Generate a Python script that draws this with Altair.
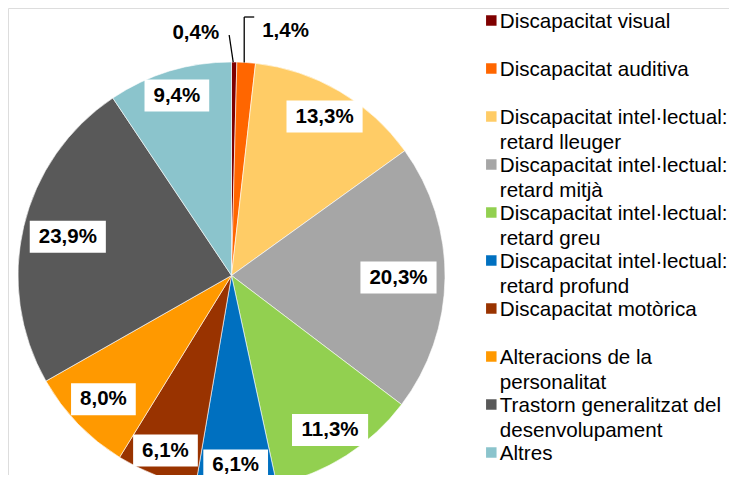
import altair as alt
import pandas as pd

cats = [
    "Discapacitat visual",
    "Discapacitat auditiva",
    "Discapacitat intel·lectual: retard lleuger",
    "Discapacitat intel·lectual: retard mitjà",
    "Discapacitat intel·lectual: retard greu",
    "Discapacitat intel·lectual: retard profund",
    "Discapacitat motòrica",
    "Alteracions de la personalitat",
    "Trastorn generalitzat del desenvolupament",
    "Altres",
]
legend_text = [
    "Discapacitat visual",
    "Discapacitat auditiva",
    "Discapacitat intel·lectual:\nretard lleuger",
    "Discapacitat intel·lectual:\nretard mitjà",
    "Discapacitat intel·lectual:\nretard greu",
    "Discapacitat intel·lectual:\nretard profund",
    "Discapacitat motòrica",
    "Alteracions de la\npersonalitat",
    "Trastorn generalitzat del\ndesenvolupament",
    "Altres",
]
values = [0.4, 1.4, 13.3, 20.3, 11.3, 6.1, 6.1, 8.0, 23.9, 9.4]
labels = ["0,4%", "1,4%", "13,3%", "20,3%", "11,3%", "6,1%", "6,1%", "8,0%", "23,9%", "9,4%"]
colors = ["#7F0000", "#FF6600", "#FFCC66", "#A6A6A6", "#92D050",
          "#0070C0", "#993300", "#FF9900", "#595959", "#8BC4CC"]

df = pd.DataFrame({"cat": cats, "v": values, "lab": labels, "i": list(range(len(cats)))})
leg = pd.DataFrame({"cat": cats, "txt": legend_text, "i": list(range(len(cats)))})

W, H = 721, 467
CX, CY, R = 223.5, 267.5, 213.5
FONT = "Liberation Sans"
LFS = 20.5

color = alt.Color("cat:N", scale=alt.Scale(domain=cats, range=colors), legend=None)

base = alt.Chart(df)

pie = base.mark_arc(outerRadius=R, stroke="white", strokeWidth=0.6).encode(
    theta=alt.Theta("v:Q", stack=True),
    order=alt.Order("i:Q"),
    color=color,
    x=alt.value(CX),
    y=alt.value(CY),
)

geo = base.transform_joinaggregate(total="sum(v)").transform_window(
    cum="sum(v)", sort=[alt.SortField("i")], frame=[None, 0]
).transform_calculate(
    a="(datum.cum - datum.v/2) / datum.total * 2 * PI"
).transform_calculate(
    r="190 - 23*pow(sin(datum.a), 2)",
    ex=f"{CX} + {R}*sin(datum.a)",
    ey=f"{CY} - {R}*cos(datum.a)",
).transform_calculate(
    lx=f"{CX} + datum.r*sin(datum.a)",
    ly=f"{CY} - datum.r*cos(datum.a)",
    w=f"{LFS}*(0.556*(length(datum.lab)-2) + 1.167) + 18",
)

inside = geo.transform_filter("datum.v >= 2")

boxes = inside.mark_rect(color="white").transform_calculate(
    x1="datum.lx - datum.w/2", x2="datum.lx + datum.w/2",
    y1="datum.ly - 16", y2="datum.ly + 16",
).encode(
    x=alt.X("x1:Q", scale=None), x2="x2:Q",
    y=alt.Y("y1:Q", scale=None), y2="y2:Q",
)

in_text = inside.mark_text(font=FONT, fontSize=LFS, fontWeight="bold", color="black",
                           align="center", baseline="middle").encode(
    x=alt.X("lx:Q", scale=None), y=alt.Y("ly:Q", scale=None), text="lab:N")

# outside labels with leader lines
s0 = geo.transform_filter("datum.i == 0")
s1 = geo.transform_filter("datum.i == 1")

lead0 = s0.mark_rule(color="black", strokeWidth=1.3).transform_calculate(
    x1="datum.ex - 1", y1="datum.ey", x2="datum.ex - 5", y2="datum.ey - 27"
).encode(x=alt.X("x1:Q", scale=None), y=alt.Y("y1:Q", scale=None), x2="x2:Q", y2="y2:Q")
txt0 = s0.mark_text(font=FONT, fontSize=LFS, fontWeight="bold", color="black",
                    align="right", baseline="middle").transform_calculate(
    tx="datum.ex - 15", ty="datum.ey - 29"
).encode(x=alt.X("tx:Q", scale=None), y=alt.Y("ty:Q", scale=None), text="lab:N")

lead1a = s1.mark_rule(color="black", strokeWidth=1.3).transform_calculate(
    x1="datum.ex - 2", y1="datum.ey", x2="datum.ex - 2", y2="datum.ey - 45.5"
).encode(x=alt.X("x1:Q", scale=None), y=alt.Y("y1:Q", scale=None), x2="x2:Q", y2="y2:Q")
lead1b = s1.mark_rule(color="black", strokeWidth=1.3).transform_calculate(
    x1="datum.ex - 2", y1="datum.ey - 45.5", x2="datum.ex + 8", y2="datum.ey - 45.5"
).encode(x=alt.X("x1:Q", scale=None), y=alt.Y("y1:Q", scale=None), x2="x2:Q", y2="y2:Q")
txt1 = s1.mark_text(font=FONT, fontSize=LFS, fontWeight="bold", color="black",
                    align="left", baseline="middle").transform_calculate(
    tx="datum.ex + 16", ty="datum.ey - 31.5"
).encode(x=alt.X("tx:Q", scale=None), y=alt.Y("ty:Q", scale=None), text="lab:N")

# custom legend
lbase = alt.Chart(leg).transform_calculate(
    sy="12.5 + 48*datum.i", ty="19.9 + 48*datum.i"
)
lsq = lbase.mark_square(size=110, opacity=1).encode(
    x=alt.value(483.3), y=alt.Y("sy:Q", scale=None), color=color)
ltxt = lbase.mark_text(font=FONT, fontSize=20.6, color="black", align="left",
                       baseline="alphabetic", lineBreak="\n", lineHeight=25).encode(
    x=alt.value(491.8), y=alt.Y("ty:Q", scale=None), text="txt:N")

chart = alt.layer(pie, boxes, in_text, lead0, txt0, lead1a, lead1b, txt1, lsq, ltxt).properties(
    width=W, height=H,
    autosize=alt.AutoSizeParams(type="none"),
    padding=0,
).configure_view(stroke=None).configure(background="white")

chart.save("out.html", embed_options={"renderer": "svg", "actions": False})
